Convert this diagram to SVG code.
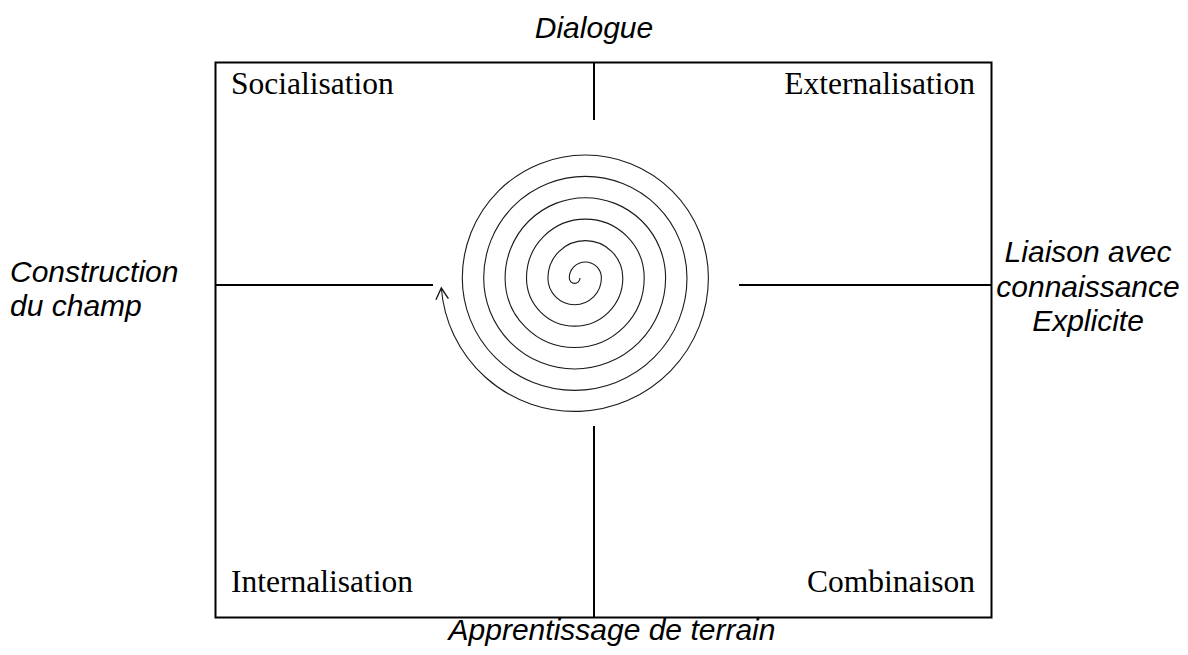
<svg xmlns="http://www.w3.org/2000/svg" width="1188" height="655" viewBox="0 0 1188 655">
<style>
.frame{fill:none;stroke:#000;stroke-width:2}
.axis{stroke:#000;stroke-width:2}
.spiral{fill:none;stroke:#1a1a1a;stroke-width:1.1}
.side{font-family:"Liberation Sans",Arial,sans-serif;font-style:italic;font-size:30px;fill:#000}
.quad{font-family:"Liberation Serif","Times New Roman",serif;font-size:31.5px;fill:#000}
</style>
<defs>
<marker id="arr" markerUnits="userSpaceOnUse" markerWidth="20" markerHeight="20" refX="0" refY="0" viewBox="-12 -8 14 16" orient="auto" overflow="visible">
<path d="M-9,-5 L0,0 L-9,5" fill="none" stroke="#1a1a1a" stroke-width="1.1"/>
</marker>
</defs>
<rect id="frame" class="frame" x="215.5" y="62.5" width="776" height="555"/>
<g id="connectors">
<line class="axis" x1="594" y1="63" x2="594" y2="120"/>
<line class="axis" x1="594" y1="426" x2="594" y2="618"/>
<line class="axis" x1="216" y1="285" x2="433" y2="285"/>
<line class="axis" x1="739" y1="285" x2="991" y2="285"/>
<path id="spiral" class="spiral" marker-end="url(#arr)" d="M580,278 A5.35,5.35 0 0 1 569.3,278 A16.05,16.05 0 0 1 601.4,278 A26.75,26.75 0 0 1 547.9,278 A37.45,37.45 0 0 1 622.8,278 A48.15,48.15 0 0 1 526.5,278 A58.85,58.85 0 0 1 644.2,278 A69.55,69.55 0 0 1 505.1,278 A80.25,80.25 0 0 1 665.6,278 A90.95,90.95 0 0 1 483.7,278 A101.65,101.65 0 0 1 687,278 A112.35,112.35 0 0 1 462.3,278 A123.05,123.05 0 0 1 708.4,278 A133.75,133.75 0 0 1 441.3,288"/>
</g>
<g id="socialisation"><text class="quad" x="231" y="94">Socialisation</text></g>
<g id="externalisation"><text class="quad" x="975" y="94" text-anchor="end">Externalisation</text></g>
<g id="internalisation"><text class="quad" x="231" y="592">Internalisation</text></g>
<g id="combinaison"><text class="quad" x="975" y="592" text-anchor="end">Combinaison</text></g>
<g id="dialogue"><text class="side" x="594" y="38" text-anchor="middle">Dialogue</text></g>
<g id="construction"><text class="side" x="10" y="282">Construction</text><text class="side" x="10" y="316">du champ</text></g>
<g id="liaison"><text class="side" x="1088" y="262" text-anchor="middle">Liaison avec</text><text class="side" x="1088" y="297" text-anchor="middle">connaissance</text><text class="side" x="1088" y="331" text-anchor="middle">Explicite</text></g>
<g id="apprentissage"><text class="side" x="612" y="640" text-anchor="middle">Apprentissage de terrain</text></g>
</svg>
